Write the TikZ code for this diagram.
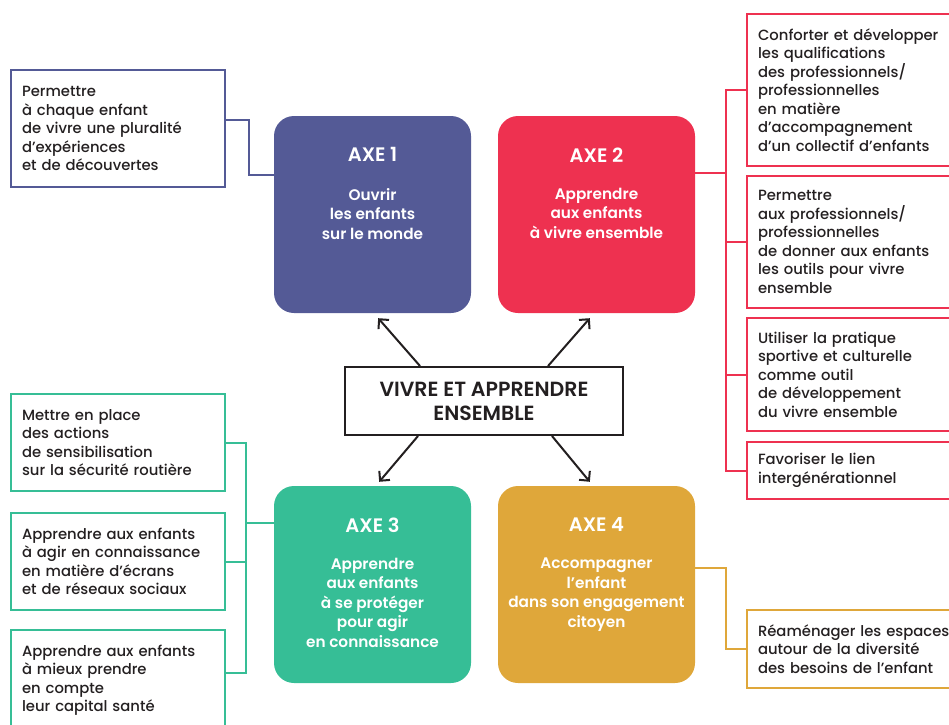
\documentclass[tikz,border=0pt]{standalone}
\usepackage{fontspec}
\setmainfont{Poppins Medium}[BoldFont=Poppins SemiBold]
\usetikzlibrary{arrows.meta, positioning}
\definecolor{axeblue}{HTML}{545A96}
\definecolor{axered}{HTML}{EE3150}
\definecolor{axegreen}{HTML}{36BE96}
\definecolor{axegold}{HTML}{DFA73A}
\definecolor{ink}{HTML}{231F20}

\begin{document}
\begin{tikzpicture}[
  x=1pt, y=-1pt,
  axe/.style={rounded corners=20pt, fill=#1, minimum width=197pt, minimum height=197pt},
  axetitle/.style={text=white, font=\bfseries\fontsize{19.5}{22}\selectfont, inner sep=0pt},
  axetext/.style={text=white, font=\bfseries\fontsize{15.3}{19.5}\selectfont, align=center, inner sep=0pt, anchor=north},
  leftbox/.style={draw=#1, line width=2pt, anchor=north west, minimum width=214pt, text width=192pt, inner xsep=11pt, align=left, text=ink, font=\fontsize{14.8}{18.5}\selectfont},
  rightbox/.style={leftbox=#1, minimum width=232pt, text width=210pt},
  hub/.style={draw=ink, line width=2pt, minimum width=278pt, minimum height=68pt, align=center, text=ink, font=\bfseries\fontsize{20.5}{24}\selectfont},
  link/.style={draw=#1, line width=2pt},
  burst/.style={draw=ink, line width=2pt, -{Straight Barb[length=7pt, width=14pt]}}]

  \useasboundingbox (0,0) rectangle (949,724);
  \clip (0,0) rectangle (949,724);

  \node[axe=axeblue] (a1) at (372.5,214.5) {};
  \node[axe=axered] (a2) at (596.5,214.5) {};
  \node[axe=axegreen] (a3) at (372.5,584.5) {};
  \node[axe=axegold] (a4) at (596.5,584.5) {};

  \node[axetitle] (t1) at ([yshift=-39pt]a1.north) {AXE 1};
  \node[axetitle] (t2) at ([yshift=-39pt]a2.north) {AXE 2};
  \node[axetitle] (t3) at ([yshift=-39pt]a3.north) {AXE 3};
  \node[axetitle] (t4) at ([yshift=-39pt]a4.north) {AXE 4};

  \node[axetext] (s1) at ([yshift=-72pt]a1.north) {Ouvrir\\les enfants\\sur le monde};
  \node[axetext] (s2) at ([yshift=-72pt]a2.north) {Apprendre\\aux enfants\\à vivre ensemble};
  \node[axetext] (s3) at ([yshift=-72pt]a3.north) {Apprendre\\aux enfants\\à se protéger\\pour agir\\en connaissance};
  \node[axetext] (s4) at ([yshift=-72pt]a4.north) {Accompagner\\l’enfant\\dans son engagement\\citoyen};

  \node[hub] (hub) at (484,401) {VIVRE ET APPRENDRE\\ENSEMBLE};

  \draw[burst] ([xshift=-64pt]hub.north) -- ([xshift=-93pt, yshift=-5pt]a1.south east);
  \draw[burst] ([xshift=64pt]hub.north) -- ([xshift=92pt, yshift=-5pt]a2.south west);
  \draw[burst] ([xshift=-66pt]hub.south) -- ([xshift=-92pt, yshift=4pt]a3.north east);
  \draw[burst] ([xshift=68pt]hub.south) -- ([xshift=92pt, yshift=4pt]a4.north west);

  \node[leftbox=axeblue, minimum height=117pt] (p1) at (10,69) {Permettre\\à chaque enfant\\de vivre une pluralité\\d’expériences\\et de découvertes};
  \draw[link=axeblue] ([yshift=9pt]p1.east) -- ++(23,0) |- ([yshift=40pt]a1.west);

  \node[rightbox=axered, minimum height=152pt] (r1) at (746,13) {Conforter et développer\\les qualifications\\des professionnels/\\professionnelles\\en matière\\d’accompagnement\\d’un collectif d’enfants};
  \node[rightbox=axered, minimum height=132pt] (r2) at (746,175) {Permettre\\aux professionnels/\\professionnelles\\de donner aux enfants\\les outils pour vivre\\ensemble};
  \node[rightbox=axered, minimum height=113pt] (r3) at (746,317) {Utiliser la pratique\\sportive et culturelle\\comme outil\\de développement\\du vivre ensemble};
  \node[rightbox=axered, minimum height=57pt] (r4) at (746,441) {Favoriser le lien\\intergénérationnel};
  \draw[link=axered] ([yshift=41.5pt]a2.east) -- ++(31,0) coordinate (rj);
  \draw[link=axered] (r1.west) -| (rj) |- (r4.west);
  \draw[link=axered] (r2.west) -- (r2.west -| rj);
  \draw[link=axered] (r3.west) -- (r3.west -| rj);

  \node[leftbox=axegreen, minimum height=97pt] (g1) at (10,393) {Mettre en place\\des actions\\de sensibilisation\\sur la sécurité routière};
  \node[leftbox=axegreen, minimum height=97pt] (g2) at (10,512) {Apprendre aux enfants\\à agir en connaissance\\en matière d’écrans\\et de réseaux sociaux};
  \node[leftbox=axegreen, minimum height=100pt] (g3) at (10,629) {Apprendre aux enfants\\à mieux prendre\\en compte\\leur capital santé};
  \draw[link=axegreen] ([yshift=61.5pt]a3.west) -- ++(-28,0) coordinate (gj);
  \draw[link=axegreen] (g1.east) -| (gj) |- ([yshift=7pt]g3.east);
  \draw[link=axegreen] (g2.east) -- (g2.east -| gj);

  \node[rightbox=axegold, minimum height=78pt] (y1) at (746,609) {Réaménager les espaces\\autour de la diversité\\des besoins de l’enfant};
  \draw[link=axegold] ([yshift=16.5pt]a4.east) -- ++(31,0) |- (y1.west);
\end{tikzpicture}
\end{document}
